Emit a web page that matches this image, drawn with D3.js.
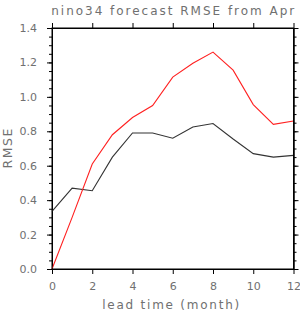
<!DOCTYPE html>
<head>
<meta charset="utf-8">
<title>nino34 RMSE</title>
<script src="https://d3js.org/d3.v7.min.js"></script>
<style>
  body { margin: 0; background: #fff; }
  .axis text { fill: #707070; font-family: "DejaVu Sans", sans-serif; font-size: 11px; }
  .axis line, .axis path { stroke: #000; stroke-width: 1; }
  .lbl { font-family: "DejaVu Sans", sans-serif; font-size: 12px; fill: #707070; }
</style>
</head>
<body>
<div id="container"></div>
<script>
// data
var leadMonths = [0, 1, 2, 3, 4, 5, 6, 7, 8, 9, 10, 11, 12];
var rmseBlack = [0.335, 0.47, 0.455, 0.65, 0.79, 0.79, 0.76, 0.825, 0.845, 0.755, 0.67, 0.65, 0.66];
var rmseRed   = [0.0, 0.30, 0.61, 0.78, 0.88, 0.95, 1.115, 1.195, 1.26, 1.155, 0.955, 0.84, 0.86];
var xTicks = [0, 2, 4, 6, 8, 10, 12];
var yTicks = [0.0, 0.2, 0.4, 0.6, 0.8, 1.0, 1.2, 1.4];
var yMinor = d3.range(0, 1.4001, 0.05);

var margin = {top: 28, right: 6.5, bottom: 46, left: 52};
var W = 300, H = 315;
var width = W - margin.left - margin.right,
    height = H - margin.top - margin.bottom;

var svg = d3.select("#container").append("svg")
    .attr("width", W).attr("height", H)
  .append("g")
    .attr("transform", "translate(" + margin.left + "," + margin.top + ")");

var x = d3.scaleLinear().domain([0, 12]).range([0, width]);
var y = d3.scaleLinear().domain([0, 1.4]).range([height, 0]);

//---- axes ----//
svg.append("g").attr("class", "axis")
    .attr("transform", "translate(0," + height + ")")
    .call(d3.axisBottom(x).tickValues(xTicks).tickFormat(d3.format("d")).tickSizeInner(5).tickSizeOuter(0).tickPadding(8));
svg.append("g").attr("class", "axis")
    .call(d3.axisTop(x).tickValues(xTicks).tickFormat("").tickSizeInner(5).tickSizeOuter(0));

svg.append("g").attr("class", "axis")
    .call(d3.axisLeft(y).tickValues(yMinor).tickFormat("").tickSizeInner(3).tickSizeOuter(0));
svg.append("g").attr("class", "axis")
    .call(d3.axisLeft(y).tickValues(yTicks).tickFormat(d3.format(".1f")).tickSizeInner(5).tickSizeOuter(0).tickPadding(10));

svg.append("g").attr("class", "axis")
    .attr("transform", "translate(" + width + ",0)")
    .call(d3.axisRight(y).tickValues(yMinor).tickFormat("").tickSizeInner(3).tickSizeOuter(0));
svg.append("g").attr("class", "axis")
    .attr("transform", "translate(" + width + ",0)")
    .call(d3.axisRight(y).tickValues(yTicks).tickFormat("").tickSizeInner(5).tickSizeOuter(0));

//---- lines ----//
var line = d3.line()
    .x(function(d, i) { return x(leadMonths[i]); })
    .y(function(d) { return y(d); });

svg.append("path").datum(rmseBlack)
    .attr("fill", "none").attr("stroke", "#333").attr("stroke-width", 1.1)
    .attr("d", line);
svg.append("path").datum(rmseRed)
    .attr("fill", "none").attr("stroke", "#ff2020").attr("stroke-width", 1.1)
    .attr("d", line);

//---- labels ----//
svg.append("text").attr("class", "lbl")
    .attr("x", width / 2).attr("y", -13)
    .attr("text-anchor", "middle")
    .attr("textLength", 243)
    .text("nino34 forecast RMSE from Apr");

svg.append("text").attr("class", "lbl")
    .attr("x", width / 2 - 2).attr("y", height + 40)
    .attr("text-anchor", "middle")
    .attr("textLength", 137)
    .text("lead time (month)");

svg.append("text").attr("class", "lbl")
    .attr("transform", "translate(-40," + (height / 2) + ") rotate(-90)")
    .attr("text-anchor", "middle")
    .attr("textLength", 40)
    .style("font-size", "12.5px")
    .text("RMSE");

// plot frame
svg.append("rect").attr("width", width).attr("height", height)
    .attr("fill", "none").attr("stroke", "#000").attr("stroke-width", 1);
</script>
</body>
